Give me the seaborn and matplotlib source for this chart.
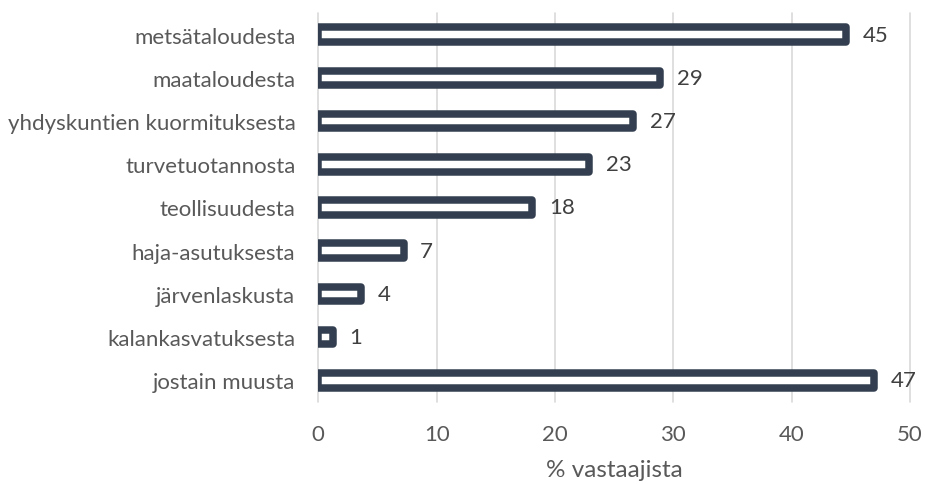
import matplotlib
matplotlib.use("Agg")
import matplotlib.pyplot as plt
import seaborn as sns
import pandas as pd

categories = ["metsätaloudesta", "maataloudesta", "yhdyskuntien kuormituksesta",
              "turvetuotannosta", "teollisuudesta", "haja-asutuksesta",
              "järvenlaskusta", "kalankasvatuksesta", "jostain muusta"]
values = [44.6, 28.9, 26.6, 22.9, 18.1, 7.2, 3.6, 1.2, 47.0]
xticks = [0, 10, 20, 30, 40, 50]
xlabel = "% vastaajista"

navy = "#333F50"
sns.set_style("white")
plt.rcParams["font.family"] = ["Lato", "DejaVu Sans"]
fs = 16.0

df = pd.DataFrame({"cat": categories, "val": values})

fig = plt.figure(figsize=(9.25, 4.85), dpi=100)
ax = fig.add_axes([318.3 / 925, 1 - 402.9 / 485, (910 - 318.3) / 925, (402.9 - 14.1) / 485])

sns.barplot(data=df, x="val", y="cat", orient="h", width=0.336, color="white", ax=ax)
for p in ax.patches:
    p.set_facecolor("white")
    p.set_edgecolor(navy)
    p.set_linewidth(5.4)
    p.set_joinstyle("round")

ax.bar_label(ax.containers[0], labels=[f"{v:.0f}" for v in values], padding=12,
             fontsize=fs, color="#404040")

ax.set_xlim(0, 50)
ax.set_xticks(xticks)
ax.set_xticklabels([str(t) for t in xticks])
ax.grid(axis="x", color="#d9d9d9", linewidth=1.2)
ax.set_axisbelow(True)
for gl in ax.get_xgridlines():
    gl.set_clip_on(False)
for s in ax.spines.values():
    s.set_visible(False)
ax.tick_params(axis="both", length=0, labelsize=fs, labelcolor="#595959")
ax.tick_params(axis="y", pad=16.5)
ax.tick_params(axis="x", pad=16)
ax.set_ylabel("")
ax.set_xlabel(xlabel, fontsize=17.5, color="#595959", labelpad=11)

fig.savefig("out.png", dpi=100)
